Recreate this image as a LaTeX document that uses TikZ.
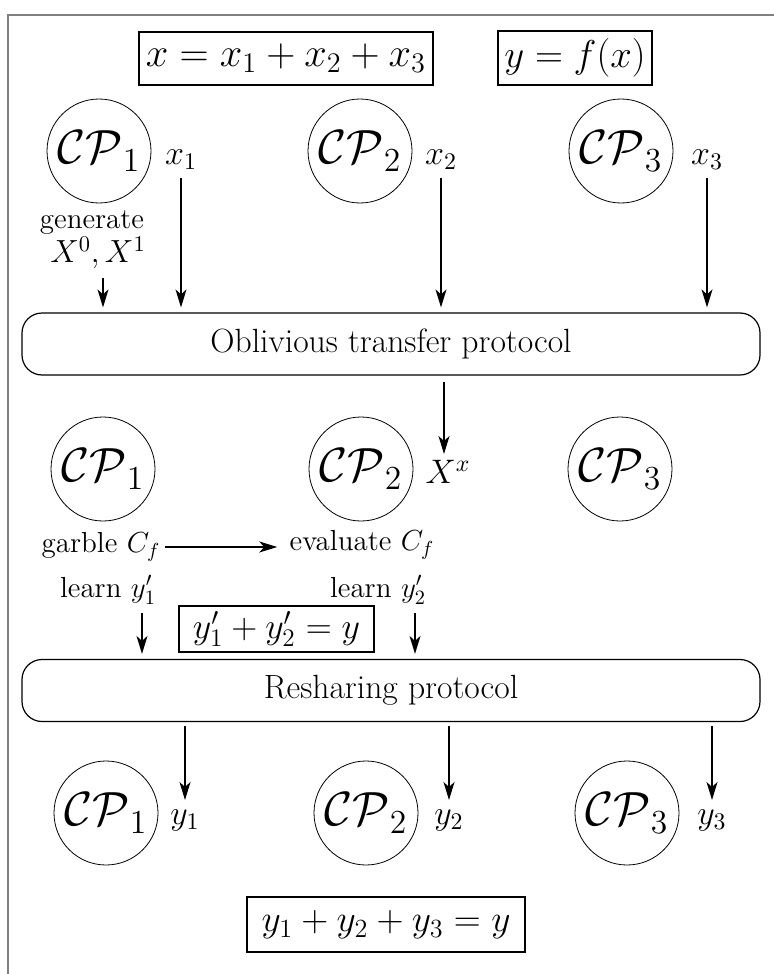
\RequirePackage{fix-cm}
\documentclass[tikz,border=0pt]{standalone}
\usetikzlibrary{arrows.meta,positioning}
\tikzset{
    mpc diagram/.style = {x=0.5pt, y=-0.5pt,
                          >={Stealth[length=9pt, width=5.5pt, inset=2.5pt]}},
    line/.style        = {semithick},
    flow/.style        = {->, line, shorten <=2pt, shorten >=2.5pt},
    party/.style       = {draw, thin, circle, minimum size=52pt, inner sep=0pt,
                          font=\fontsize{24}{29}\selectfont},
    share/.style       = {font=\fontsize{17}{20}\selectfont, inner sep=2pt},
    note/.style        = {font=\fontsize{14.5}{17}\selectfont, inner sep=2pt},
    relation/.style    = {draw, semithick, inner sep=0pt},
    protocol/.style    = {draw, semithick, rounded corners=10pt,
                          minimum width=369pt, minimum height=31pt,
                          font=\fontsize{16.8}{20}\selectfont},
    frame/.style       = {draw=gray, line width=1pt}
}

\begin{document}
\begin{tikzpicture}[mpc diagram]
\useasboundingbox (0,0) rectangle (774,974);

% ================= Outer frame (cut at right and bottom) =================
\coordinate (frame corner) at (8,15);
\coordinate (frame right) at (780,15);
\coordinate (frame bottom) at (8,980);
\draw[frame] (frame right) -- (frame corner) -- (frame bottom);

% ================= Inputs =================
\node[relation, minimum width=147pt, minimum height=26.5pt,
      font=\fontsize{20.2}{24}\selectfont] (sum x) at (286,58.5)
    {$x = x_1 + x_2 + x_3$};
\node[relation, minimum width=77pt, minimum height=27pt,
      font=\fontsize{19.4}{23}\selectfont] (fun y) at (575,58)
    {$y = f(x)$};

\node[party] (cp11) at (99,151) {$\mathcal{CP}_1$};
\node[party] (cp12) at (360,151) {$\mathcal{CP}_2$};
\node[party] (cp13) at (621,151) {$\mathcal{CP}_3$};
\node[share] (x1) at (181,160) {$x_1$};
\node[share] (x2) at (441,160) {$x_2$};
\node[share] (x3) at (707,160) {$x_3$};

\node[note] (gen) at (92,223) {generate};
\node[share, font=\fontsize{16}{19}\selectfont] (gen keys) at (98,253) {$X^0, X^1$};

% ================= Oblivious transfer =================
\node[protocol] (ot) at (391,344) {Oblivious transfer protocol};

\draw[flow] ([xshift=2.5pt]gen keys.south) -- ([xshift=2.5pt]gen keys.south |- ot.north);
\draw[flow] (x1.south) -- (x1.south |- ot.north);
\draw[flow] (x2.south) -- (x2.south |- ot.north);
\draw[flow] (x3.south) -- (x3.south |- ot.north);

% ================= Garbled circuit =================
\node[party] (cp21) at (103,469) {$\mathcal{CP}_1$};
\node[party] (cp22) at (361,469) {$\mathcal{CP}_2$};
\node[party] (cp23) at (620,469) {$\mathcal{CP}_3$};
\node[share] (key) at (448,472) {$X^x$};

\draw[flow, shorten <=3pt, shorten >=1pt] ([xshift=-2pt]key.north |- ot.south) -- ([xshift=-2pt]key.north);

\node[note] (garble) at (101,547) {garble $C_f$};
\node[note] (evaluate) at (362,545) {evaluate $C_f$};
\draw[->, line, shorten >=4pt] (garble.east) -- (evaluate.west |- garble.east);

\node[note] (learn1) at (108,590) {learn $y_1'$};
\node[note] (learn2) at (378,590) {learn $y_2'$};
\node[relation, minimum width=97.5pt, minimum height=23pt,
      font=\fontsize{18}{21}\selectfont] (sum y prime) at (276.5,629)
    {$y_1' + y_2' = y$};

% ================= Resharing =================
\node[protocol] (rs) at (391,690.5) {Resharing protocol};

\draw[flow] ([xshift=17pt]learn1.south) -- ([xshift=17pt]learn1.south |- rs.north);
\draw[flow] ([xshift=18.5pt]learn2.south) -- ([xshift=18.5pt]learn2.south |- rs.north);

% ================= Outputs =================
\node[party] (cp31) at (106,813) {$\mathcal{CP}_1$};
\node[party] (cp32) at (366,813) {$\mathcal{CP}_2$};
\node[party] (cp33) at (627,813) {$\mathcal{CP}_3$};
\node[share] (y1) at (185,820) {$y_1$};
\node[share] (y2) at (449,820) {$y_2$};
\node[share] (y3) at (712,820) {$y_3$};

\draw[flow] (y1.north |- rs.south) -- (y1.north);
\draw[flow] (y2.north |- rs.south) -- (y2.north);
\draw[flow] (y3.north |- rs.south) -- (y3.north);

\node[relation, minimum width=139pt, minimum height=27.5pt,
      font=\fontsize{18.7}{22}\selectfont] (sum y) at (386,924.5)
    {$y_1 + y_2 + y_3 = y$};

\end{tikzpicture}
\end{document}
